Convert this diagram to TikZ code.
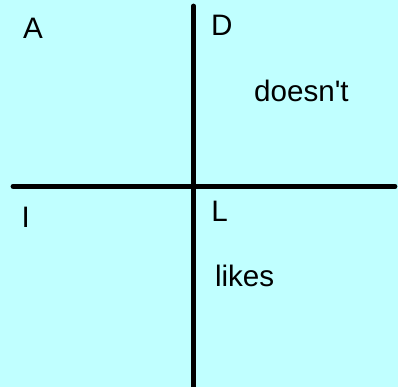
\documentclass[tikz,border=0pt]{standalone}
\usepackage{fontspec}
\setmainfont{Liberation Sans}
\usepackage{xcolor}
\definecolor{paper}{RGB}{192, 255, 255}

\begin{document}
\begin{tikzpicture}[x=1pt, y=-1pt, every node/.style={font=\fontsize{29.6}{34}\selectfont, inner sep=0pt, anchor=base west}]
        \fill[paper] (0,0) rectangle (398,387);
        \useasboundingbox (0,0) rectangle (398,387);

        \coordinate (top) at (193.5,6);
        \coordinate (bottom) at (193.5,387);
        \coordinate (left) at (13,186.3);
        \coordinate (right) at (395,186.3);

        \node (a) at (23,38.3) {A};
        \node (d) at (211,36) {D};
        \node (doesnt) at (254,101.7) {doesn\textquotesingle t};
        \node (i) at (21.3,227.3) {I};
        \node (l) at (211.2,221.7) {L};
        \node (likes) at (214.8,286.7) {likes};

        \draw[line width=4.8pt, line cap=round] (top) -- (bottom);
        \draw[line width=4.8pt, line cap=round] (left) -- (right);
    \end{tikzpicture}
\end{document}
